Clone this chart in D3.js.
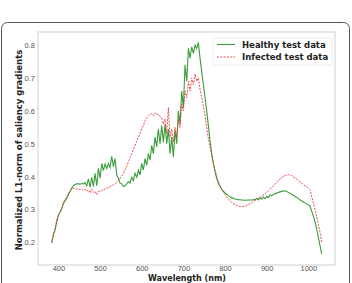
<!DOCTYPE html>
<html>
<head>
<meta charset="utf-8">
<script src="https://cdn.jsdelivr.net/npm/d3@7"></script>
<style>
  body { margin: 0; background: #fff; }
  svg { display: block; font-family: "DejaVu Sans", sans-serif; }
</style>
</head>
<body>
<div id="chart"></div>
<script>
const healthyWl = [384,388,392,396,400,404,408,412,416,420,424,428,432,436,440,444,448,452,456,460,464,468,472,476,480,484,488,492,496,500,504,508,512,516,520,524,528,532,536,540,544,548,552,556,560,564,568,572,576,580,584,588,592,596,600,604,608,612,616,620,624,628,632,636,640,644,648,652,656,660,664,668,672,676,680,684,688,692,696,700,704,708,712,716,720,724,728,732,736,740,744,748,752,756,760,764,768,772,776,780,784,788,792,800,808,816,824,832,840,848,856,864,872,876,880,884,888,892,896,900,904,908,912,920,928,936,944,952,960,968,976,984,992,1000,1004,1008,1012,1016,1020,1024,1028,1032];
const healthyVal = [0.200,0.222,0.238,0.262,0.282,0.292,0.302,0.318,0.326,0.334,0.345,0.355,0.365,0.372,0.376,0.378,0.378,0.377,0.379,0.378,0.382,0.372,0.392,0.368,0.398,0.370,0.410,0.372,0.425,0.395,0.440,0.418,0.438,0.425,0.440,0.428,0.462,0.430,0.455,0.405,0.395,0.380,0.378,0.370,0.372,0.378,0.385,0.380,0.398,0.388,0.410,0.398,0.420,0.405,0.440,0.420,0.455,0.435,0.470,0.450,0.495,0.470,0.520,0.490,0.545,0.500,0.555,0.505,0.560,0.500,0.545,0.470,0.520,0.460,0.540,0.500,0.600,0.560,0.660,0.610,0.740,0.690,0.790,0.760,0.795,0.775,0.800,0.790,0.808,0.760,0.720,0.680,0.640,0.600,0.555,0.510,0.470,0.440,0.415,0.395,0.380,0.370,0.362,0.350,0.342,0.336,0.332,0.330,0.329,0.328,0.329,0.329,0.330,0.334,0.329,0.336,0.331,0.338,0.333,0.340,0.336,0.344,0.342,0.348,0.352,0.355,0.357,0.352,0.346,0.340,0.333,0.326,0.320,0.314,0.310,0.295,0.280,0.262,0.240,0.215,0.190,0.165];

const infectedWl = [384,388,392,396,400,404,408,412,416,420,424,428,432,436,440,444,448,452,456,460,464,468,472,476,480,484,488,492,496,500,504,508,512,516,520,524,528,532,536,540,544,548,552,556,560,564,568,572,576,580,584,588,592,596,600,604,608,612,616,620,624,628,632,636,640,644,648,652,656,660,664,668,672,676,680,684,688,692,696,700,704,708,712,716,720,724,728,732,736,740,744,748,752,756,760,764,768,772,776,780,784,788,792,796,800,808,816,824,832,840,848,856,864,872,880,888,896,904,912,920,928,936,944,952,960,968,976,984,992,1000,1004,1008,1012,1016,1020,1024,1028,1032];
const infectedVal = [0.198,0.228,0.240,0.268,0.285,0.290,0.305,0.322,0.330,0.338,0.350,0.356,0.362,0.364,0.365,0.362,0.363,0.360,0.362,0.358,0.362,0.356,0.360,0.350,0.362,0.352,0.355,0.345,0.356,0.354,0.358,0.360,0.362,0.365,0.366,0.370,0.372,0.375,0.378,0.382,0.388,0.395,0.402,0.410,0.420,0.432,0.445,0.458,0.470,0.482,0.495,0.508,0.520,0.532,0.545,0.555,0.570,0.578,0.585,0.590,0.592,0.585,0.594,0.588,0.590,0.582,0.578,0.560,0.575,0.530,0.610,0.520,0.545,0.505,0.550,0.520,0.575,0.550,0.620,0.600,0.660,0.640,0.690,0.660,0.700,0.680,0.712,0.690,0.700,0.665,0.640,0.615,0.585,0.550,0.515,0.490,0.465,0.440,0.420,0.400,0.385,0.372,0.362,0.352,0.345,0.332,0.322,0.315,0.310,0.309,0.310,0.315,0.321,0.327,0.334,0.340,0.348,0.357,0.366,0.377,0.388,0.397,0.403,0.406,0.403,0.396,0.388,0.380,0.372,0.366,0.360,0.340,0.320,0.300,0.278,0.255,0.230,0.200];

const xTicks = [400,500,600,700,800,900,1000];
const yTicks = [0.2,0.3,0.4,0.5,0.6,0.7,0.8];

const W = 352, H = 283;
const margin = { top: 32, right: 17, bottom: 18, left: 38 },
    width = W - margin.left - margin.right,
    height = H - margin.top - margin.bottom;

const svgContainer = d3.select("#chart").append("svg")
    .attr("width", W)
    .attr("height", H);

// outer panel frame
svgContainer.append("rect")
    .attr("x", 1.5).attr("y", 22.5)
    .attr("width", 348).attr("height", 280)
    .attr("rx", 6)
    .attr("fill", "none")
    .attr("stroke", "#555")
    .attr("stroke-width", 1);

const svg = svgContainer.append("g")
    .attr("transform", `translate(${margin.left},${margin.top})`);

const x = d3.scaleLinear().domain([351, 1064]).range([0, width]);
const y = d3.scaleLinear().domain([0.131, 0.84]).range([height, 0]);

svg.append("rect")
    .attr("width", width).attr("height", height)
    .attr("fill", "none")
    .attr("stroke", "#cfcfcf")
    .attr("stroke-width", 1);

const xAxisGroup = svg.append("g")
    .attr("transform", `translate(0,${height})`)
    .call(d3.axisBottom(x).tickValues(xTicks).tickFormat(d3.format("d")).tickSize(0).tickPadding(1));
xAxisGroup.select(".domain").remove();
xAxisGroup.selectAll("text").style("fill", "#555").style("font-size", "7.5px");

const yAxisGroup = svg.append("g")
    .call(d3.axisLeft(y).tickValues(yTicks).tickFormat(d3.format(".1f")).tickSize(0).tickPadding(3));
yAxisGroup.select(".domain").remove();
yAxisGroup.selectAll("text").style("fill", "#555").style("font-size", "7.5px");

svg.append("text")
    .attr("x", 149).attr("y", height + 16)
    .style("text-anchor", "middle")
    .style("font-size", "8px").style("font-weight", "bold")
    .style("fill", "#222")
    .text("Wavelength (nm)");

svg.append("text")
    .attr("transform", "rotate(-90)")
    .attr("x", -118).attr("y", -16)
    .style("text-anchor", "middle")
    .style("font-size", "8.5px").style("font-weight", "bold")
    .style("fill", "#222")
    .text("Normalized L1-norm of saliency gradients");

const healthy = healthyWl.map((w, i) => ({ w, v: healthyVal[i] }));
const infected = infectedWl.map((w, i) => ({ w, v: infectedVal[i] }));

const line = d3.line().x(d => x(d.w)).y(d => y(d.v));

svg.append("path")
    .datum(healthy)
    .attr("d", line)
    .attr("fill", "none")
    .attr("stroke", "#3a9d3a")
    .attr("stroke-width", 1.1);

svg.append("path")
    .datum(infected)
    .attr("d", line)
    .attr("fill", "none")
    .attr("stroke", "#e8383b")
    .attr("stroke-width", 0.9)
    .attr("stroke-dasharray", "2,1.3");

// legend
const legend = svg.append("g").attr("transform", `translate(${175},${6})`);
legend.append("rect")
    .attr("width", 119).attr("height", 27)
    .attr("rx", 2)
    .attr("fill", "#fff").attr("stroke", "#eee");
const items = [
    { label: "Healthy test data", color: "#3a9d3a", dash: null, w: 1.1 },
    { label: "Infected test data", color: "#e8383b", dash: "2,1.3", w: 0.9 }
];
items.forEach((it, i) => {
    const yy = 6.5 + i * 12.5;
    legend.append("line")
        .attr("x1", 4).attr("x2", 22)
        .attr("y1", yy).attr("y2", yy)
        .attr("stroke", it.color)
        .attr("stroke-width", it.w)
        .attr("stroke-dasharray", it.dash);
    legend.append("text")
        .attr("x", 29).attr("y", yy + 3)
        .style("font-size", "8.5px").style("font-weight", "bold")
        .style("fill", "#222")
        .text(it.label);
});
</script>
</body>
</html>
